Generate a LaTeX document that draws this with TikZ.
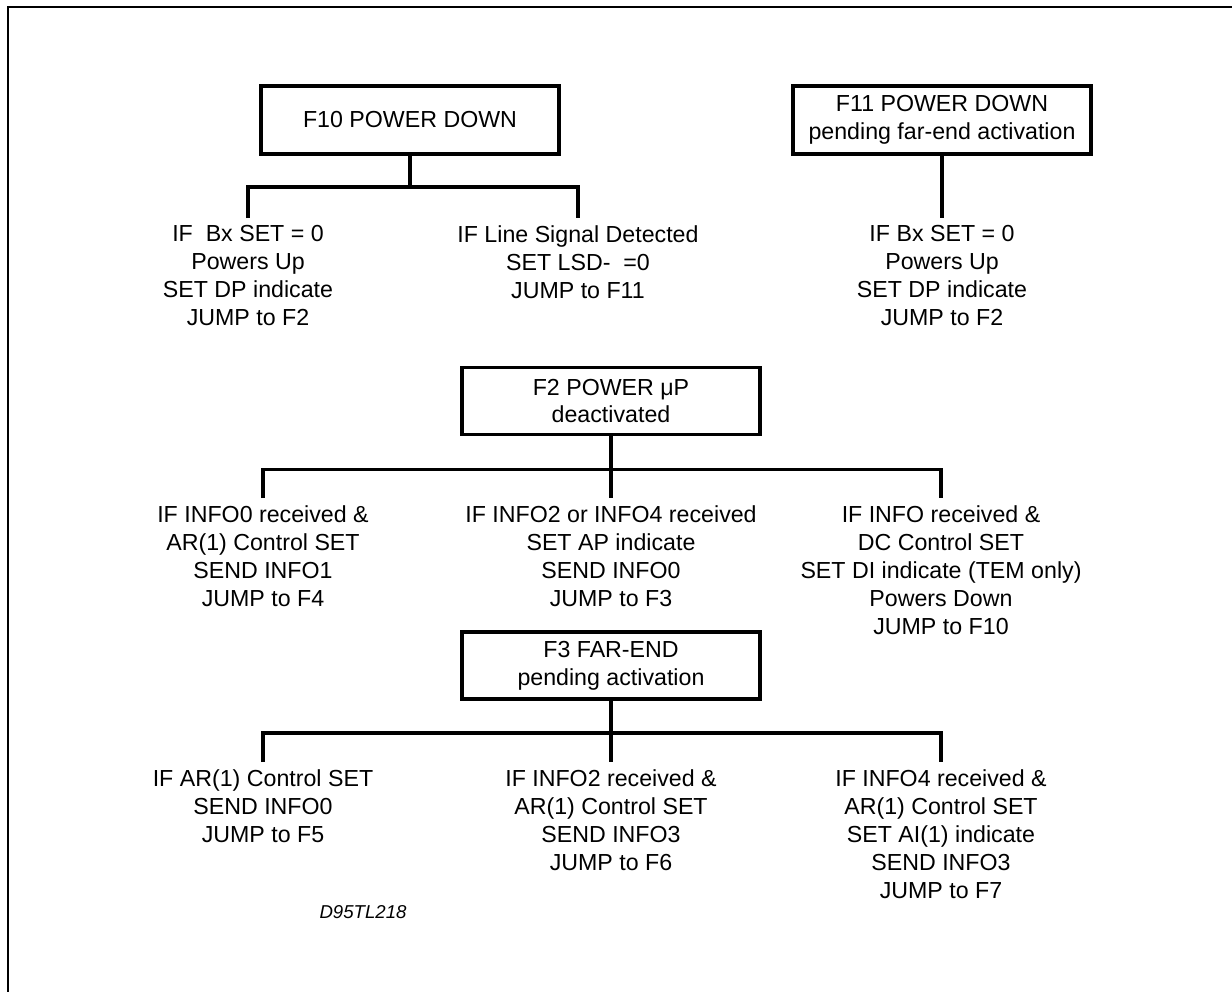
\documentclass[tikz,border=0pt]{standalone}
\usepackage{fontspec}
\setmainfont{Liberation Sans}

\begin{document}
\begin{tikzpicture}[
    statebox/.style={draw, line width=1pt, minimum width=2.98cm, minimum height=0.67cm,
        inner sep=0pt, align=center, font=\fontsize{6.6}{7.9}\selectfont},
    action/.style={anchor=north, inner xsep=0pt, inner ysep=2pt, align=center,
        font=\fontsize{6.6}{7.95}\selectfont},
    link/.style={line width=1pt}]

    \useasboundingbox (0,0) rectangle (12.32,-9.92);

    % Frame
    \draw[line width=0.6pt] (12.32,-0.07) -- (0.08,-0.07) -- (0.08,-9.92);

    % States
    \node[statebox, minimum height=0.68cm] (f10) at (4.10,-1.20) {F10 POWER DOWN};
    \node[statebox, minimum height=0.68cm] (f11) at (9.42,-1.20) {F11 POWER DOWN\\pending far-end activation};
    \node[statebox] (f2) at (6.11,-4.01) {F2 POWER μP\\deactivated};
    \node[statebox] (f3) at (6.11,-6.655) {F3 FAR-END\\pending activation};

    %-------------
    % First row
    \node[action] (a1) at (2.48,-2.18) {IF\ \ Bx SET = 0\\Powers Up\\SET DP indicate\\JUMP to F2};
    \node[action] (b1) at (5.78,-2.18) {IF Line Signal Detected\\SET LSD-\ \ =0\\JUMP to F11};
    \node[action] (c1) at (9.42,-2.18) {IF Bx SET = 0\\Powers Up\\SET DP indicate\\JUMP to F2};

    \draw[link] (f10.south) -- ++(0,-0.31) coordinate (f10bus);
    \draw[link] (a1.north) |- (f10bus) -| (b1.north);
    \draw[link] (f11.south) -- (c1.north);

    %-------------
    % Second row
    \node[action] (a2) at (2.63,-4.98) {IF INFO0 received \&\\AR(1) Control SET\\SEND INFO1\\JUMP to F4};
    \node[action] (b2) at (6.11,-4.98) {IF INFO2 or INFO4 received\\SET AP indicate\\SEND INFO0\\JUMP to F3};
    \node[action] (c2) at (9.41,-4.98) {IF INFO received \&\\DC Control SET\\SET DI indicate (TEM only)\\Powers Down\\JUMP to F10};

    \path (f2.south) ++(0,-0.33) coordinate (f2bus);
    \draw[link] (f2.south) -- (b2.north);
    \draw[link] (a2.north) |- (f2bus) -| (c2.north);

    %-------------
    % Third row
    \node[action] (a3) at (2.63,-7.62) {IF AR(1) Control SET\\SEND INFO0\\JUMP to F5};
    \node[action] (b3) at (6.11,-7.62) {IF INFO2 received \&\\AR(1) Control SET\\SEND INFO3\\JUMP to F6};
    \node[action] (c3) at (9.41,-7.62) {IF INFO4 received \&\\AR(1) Control SET\\SET AI(1) indicate\\SEND INFO3\\JUMP to F7};

    \path (f3.south) ++(0,-0.32) coordinate (f3bus);
    \draw[link] (f3.south) -- (b3.north);
    \draw[link] (a3.north) |- (f3bus) -| (c3.north);

    \node[font=\fontsize{5.3}{6}\selectfont\itshape] (tag) at (3.63,-9.12) {D95TL218};

\end{tikzpicture}
\end{document}
